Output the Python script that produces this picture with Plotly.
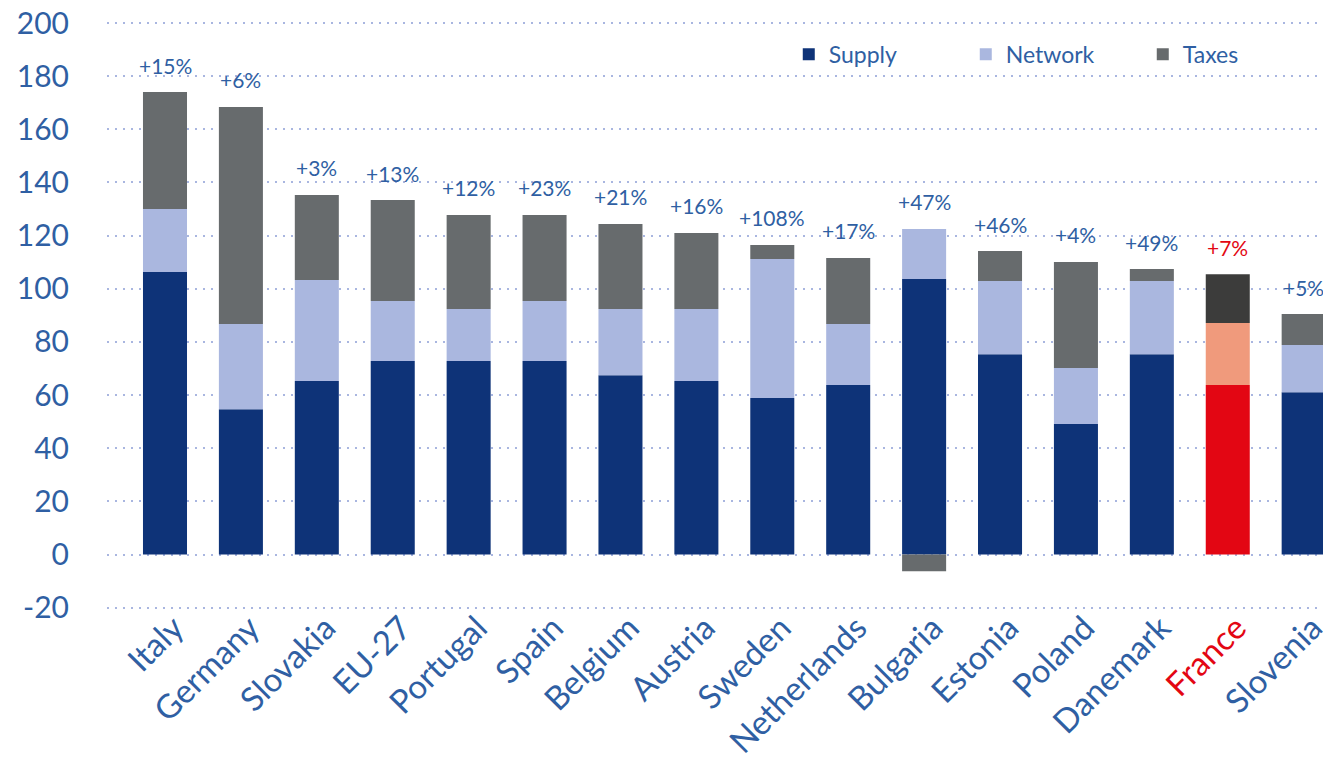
import plotly.graph_objects as go

# Electricity price components by country
countries = ["Italy", "Germany", "Slovakia", "EU-27", "Portugal", "Spain", "Belgium",
             "Austria", "Sweden", "Netherlands", "Bulgaria", "Estonia", "Poland",
             "Danemark", "France", "Slovenia"]
supply = [106.3, 54.7, 65.3, 72.8, 72.8, 72.8, 67.5, 65.3, 58.9, 63.8, 103.7, 75.4, 49.1, 75.4, 63.8, 61.1]
network = [23.7, 32.0, 38.0, 22.6, 19.6, 22.6, 24.9, 27.1, 52.3, 22.9, 18.8, 27.5, 21.1, 27.5, 23.3, 17.7]
taxes = [44.0, 81.7, 32.0, 38.0, 35.4, 32.4, 32.0, 28.6, 5.3, 24.9, -6.3, 11.3, 39.9, 4.5, 18.4, 11.7]
changes = ["+15%", "+6%", "+3%", "+13%", "+12%", "+23%", "+21%", "+16%", "+108%", "+17%",
           "+47%", "+46%", "+4%", "+49%", "+7%", "+5%"]
y_ticks = [-20, 0, 20, 40, 60, 80, 100, 120, 140, 160, 180, 200]

HIGHLIGHT = "France"
TEXT = "#2f5fa3"
RED = "#e30613"
GRID = "#a9b6e0"
FONT = "Lato, Open Sans, sans-serif"

series = [
    ("Supply", supply, "#0e3378", RED),
    ("Network", network, "#aab7df", "#f09a7c"),
    ("Taxes", taxes, "#676b6d", "#3c3c3b"),
]

x = list(range(len(countries)))
fig = go.Figure()
for name, vals, color, hi_color in series:
    colors = [hi_color if c == HIGHLIGHT else color for c in countries]
    fig.add_trace(go.Bar(x=x, y=vals, name=name, marker=dict(color=colors, line_width=0),
                         width=0.58))

# change labels above each bar (positive stack top)
for i, (c, lab) in enumerate(zip(countries, changes)):
    top = sum(v for v in (supply[i], network[i], taxes[i]) if v > 0)
    fig.add_annotation(x=i, y=top, text=lab, showarrow=False, yanchor="middle", yshift=27,
                       font=dict(size=21, color=RED if c == HIGHLIGHT else TEXT, family=FONT))

ticktext = [f"<span style='color:{RED}'>{c}</span>" if c == HIGHLIGHT else c for c in countries]

# white patch hiding the gridlines behind the legend
fig.add_shape(type="rect", xref="paper", yref="paper", x0=0.521, x1=1.05, y0=0.864, y1=1.1,
              fillcolor="white", line_width=0, layer="between")

# the page body adds an 8px offset, so the figure is 8px smaller than the window
fig.update_layout(
    barmode="relative",
    width=1323, height=753,
    margin=dict(l=99, r=0, t=12, b=151, autoexpand=False),
    plot_bgcolor="white", paper_bgcolor="white",
    font=dict(family=FONT, color=TEXT),
    legend=dict(orientation="h", x=0.557, y=0.942, xanchor="left", yanchor="middle",
                font=dict(size=23, color=TEXT), entrywidth=132, entrywidthmode="pixels",
                bgcolor="rgba(0,0,0,0)", traceorder="normal"),
)
fig.update_xaxes(range=[-0.764, 15.36], tickmode="array", tickvals=x, ticktext=ticktext,
                 tickangle=-45, tickfont=dict(size=33, color=TEXT), showgrid=False,
                 showline=False, ticks="", automargin=False, ticklabelstandoff=-9,
                 ticklabelshift=9, ticklabeloverflow="allow")
fig.update_yaxes(range=[-20.87, 201.13], tickmode="array", tickvals=y_ticks,
                 ticktext=[str(v) for v in y_ticks],
                 tickfont=dict(size=30, color=TEXT), showgrid=True, gridcolor=GRID,
                 griddash="2px,6px", gridwidth=2, zeroline=False, showline=False,
                 ticklabelstandoff=37, automargin=False, ticklabeloverflow="allow")

fig.write_html("out.html")
